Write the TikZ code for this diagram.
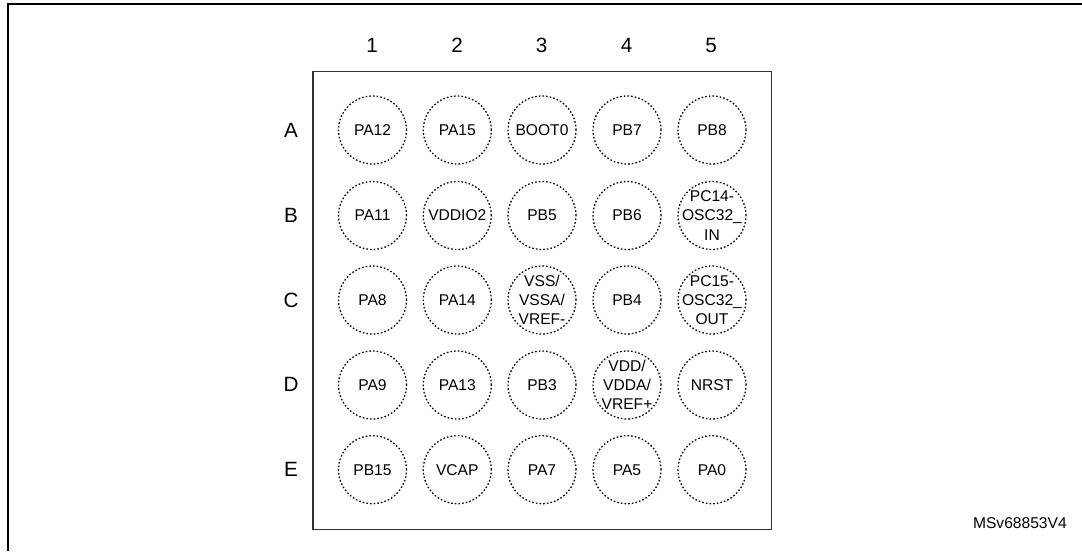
\documentclass[tikz,border=0pt]{standalone}
\usepackage{fontspec}
\setmainfont{Liberation Sans}
\tikzset{
  ball/.style={circle,draw=black,line width=0.95pt,dash pattern=on 1.2pt off 1.55pt,minimum size=51pt,inner sep=-12pt,align=center,font=\fontsize{11.7}{14.4}\selectfont},
  axislabel/.style={font=\fontsize{15.5}{17}\selectfont,inner sep=0pt},
  framerule/.style={line width=1.4pt,black},
  pkgrule/.style={line width=1pt,black!80},
}
\begin{document}
\begin{tikzpicture}[x=0.75pt,y=-0.75pt]
\useasboundingbox (0,0) rectangle (1082,551);
\fill[white] (0,0) rectangle (1082,551);
\coordinate (frameTR) at (1082,4);
\coordinate (frameTL) at (8,4);
\coordinate (frameBL) at (8,551);
\draw[framerule] (frameBL) -- (frameTL) -- (frameTR);
\coordinate (pkgTL) at (313,71.3);
\coordinate (pkgBR) at (771.7,529.3);
\draw[pkgrule] (pkgTL) rectangle (pkgBR);
\foreach \n/\x in {1/372,2/457,3/541.5,4/626.5,5/711}
  \node[axislabel] (col\n) at (\x,45.5) {\n};
\foreach \n/\y in {A/130,B/215,C/300,D/384.5,E/469}
  \node[axislabel] (row\n) at (291,\y) {\n};
\node[ball] (A1) at (372.5,130) {PA12};
\node[ball] (A2) at (457.3,130) {PA15};
\node[ball] (A3) at (542,130) {BOOT0};
\node[ball] (A4) at (627,130) {PB7};
\node[ball] (A5) at (712,130) {PB8};
\node[ball] (B1) at (372.5,215.5) {PA11};
\node[ball] (B2) at (457.3,215.5) {VDDIO2};
\node[ball] (B3) at (542,215.5) {PB5};
\node[ball] (B4) at (627,215.5) {PB6};
\node[ball] (B5) at (712,215.5) {PC14-\\OSC32\_\\IN};
\node[ball] (C1) at (372.5,300) {PA8};
\node[ball] (C2) at (457.3,300) {PA14};
\node[ball] (C3) at (542,300) {VSS/\\VSSA/\\VREF-};
\node[ball] (C4) at (627,300) {PB4};
\node[ball] (C5) at (712,300) {PC15-\\OSC32\_\\OUT};
\node[ball] (D1) at (372.5,385) {PA9};
\node[ball] (D2) at (457.3,385) {PA13};
\node[ball] (D3) at (542,385) {PB3};
\node[ball] (D4) at (627,385) {VDD/\\VDDA/\\VREF+};
\node[ball] (D5) at (712,385) {NRST};
\node[ball] (E1) at (372.5,469.7) {PB15};
\node[ball] (E2) at (457.3,469.7) {VCAP};
\node[ball] (E3) at (542,469.7) {PA7};
\node[ball] (E4) at (627,469.7) {PA5};
\node[ball] (E5) at (712,469.7) {PA0};
\node[inner sep=0pt,anchor=east,font=\fontsize{11.7}{14}\selectfont] (ref) at (1067,523) {MSv68853V4};
\end{tikzpicture}
\end{document}
